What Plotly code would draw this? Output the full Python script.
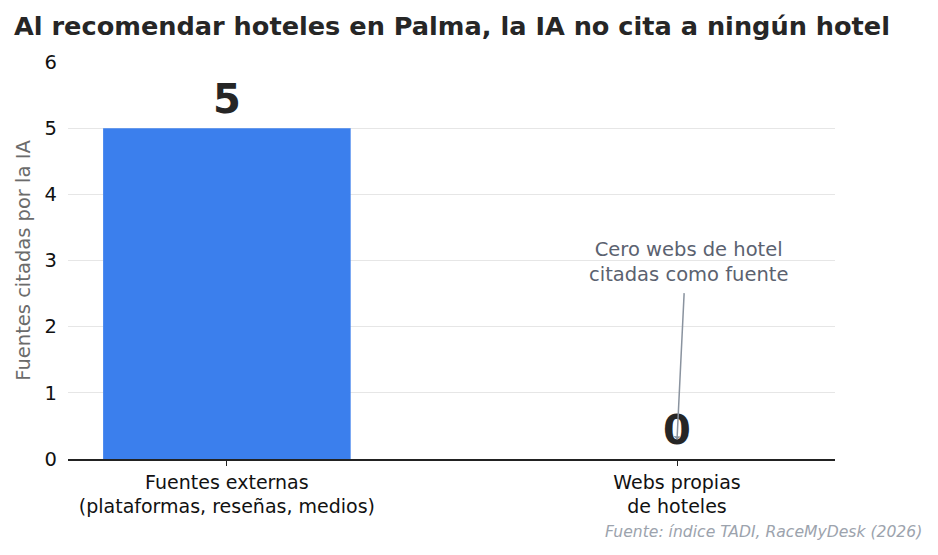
import plotly.graph_objects as go

categories = ["Fuentes externas<br>(plataformas, reseñas, medios)", "Webs propias<br>de hoteles"]
values = [5, 0]
value_labels = ["5", "0"]
y_ticks = [0, 1, 2, 3, 4, 5, 6]

FONT = "DejaVu Sans"
x_idx = list(range(len(categories)))

fig = go.Figure()
fig.add_trace(go.Bar(
    x=x_idx, y=values, width=0.55,
    marker=dict(color="#3b7fed", line=dict(width=0)),
    hoverinfo="skip",
))

for i, (v, lab) in enumerate(zip(values, value_labels)):
    fig.add_annotation(
        x=i, y=v, text=f"<b>{lab}</b>", showarrow=False,
        xref="x", yref="y", yanchor="bottom", yshift=4,
        font=dict(family=FONT, size=40, color="#262626"),
    )

# arrow
fig.add_annotation(
    x=1.0, y=0.29, ax=1.016, ay=2.53, axref="x", ayref="y",
    xref="x", yref="y", text="", showarrow=True,
    arrowhead=1, arrowsize=0.8, arrowwidth=1.5, arrowcolor="#8a939f",
)
fig.add_annotation(
    x=1.025, y=2.97, xref="x", yref="y",
    text="Cero webs de hotel<br>citadas como fuente", showarrow=False,
    font=dict(family=FONT, size=19.5, color="#5b6270"), align="center",
    yanchor="middle",
)

fig.add_annotation(
    x=1.116, y=-0.183, xref="paper", yref="paper",
    text="<i>Fuente: índice TADI, RaceMyDesk (2026)</i>", showarrow=False,
    xanchor="right", yanchor="middle",
    font=dict(family=FONT, size=15.6, color="#9ca3ad"),
)

fig.update_layout(
    width=938, height=555,
    margin=dict(l=68, r=103, t=62, b=96),
    paper_bgcolor="white", plot_bgcolor="white",
    showlegend=False,
    title=dict(
        text="<b>Al recomendar hoteles en Palma, la IA no cita a ningún hotel</b>",
        x=14 / 938, xanchor="left", xref="container",
        y=1 - 26 / 555, yanchor="middle", yref="container",
        font=dict(family=FONT, size=25.6, color="#262626"),
    ),
    font=dict(family=FONT, size=19.5, color="#111111"),
)

fig.update_xaxes(
    tickmode="array", tickvals=x_idx, ticktext=categories,
    range=[-0.353, 1.351],
    showline=True, linecolor="#222222", linewidth=1.5,
    ticks="outside", ticklen=5, tickcolor="#222222",
    showgrid=False, zeroline=False,
    tickfont=dict(family=FONT, size=19, color="#111111"),
)
fig.update_yaxes(
    range=[0, 6], tickmode="array", tickvals=y_ticks,
    showgrid=True, gridcolor="#e6e6e6", gridwidth=1,
    zeroline=False, showline=False, ticks="",
    ticklabelstandoff=10,
    tickfont=dict(family=FONT, size=19.5, color="#111111"),
    title=dict(text="Fuentes citadas por la IA", standoff=8,
               font=dict(family=FONT, size=19.5, color="#6b6b6b")),
)

fig.write_html("out.html")
